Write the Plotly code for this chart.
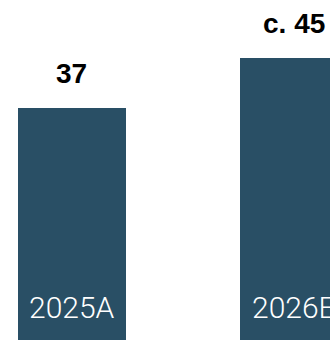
import plotly.graph_objects as go

# Chart data
categories = ["2025A", "2026E"]
values = [37, 45]
value_prefixes = ["", "c. "]

BAR_COLOR = "#294f65"
positions = list(range(len(categories)))

fig = go.Figure(
    go.Bar(
        x=positions,
        y=values,
        width=0.484,
        marker=dict(color=BAR_COLOR, line=dict(width=0)),
        hoverinfo="skip",
    )
)

annotations = []
for pos, cat, val, pre in zip(positions, categories, values, value_prefixes):
    # value label above the bar
    annotations.append(dict(
        x=pos, y=val, xref="x", yref="y",
        text=f"<b>{pre}{val}</b>",
        showarrow=False, xanchor="center", yanchor="middle",
        yshift=34.5,
        font=dict(family="Liberation Sans, Arial, sans-serif", size=28, color="#000000"),
    ))
    # period label inside the bar base
    annotations.append(dict(
        x=pos, y=0, xref="x", yref="y",
        text=cat,
        showarrow=False, xanchor="center", yanchor="middle",
        yshift=33,
        font=dict(family="Roboto, Lato, sans-serif", size=30, color="#ffffff", weight=300),
    ))

fig.update_layout(
    width=330, height=341,
    margin=dict(l=0, r=0, t=0, b=0),
    paper_bgcolor="#ffffff", plot_bgcolor="#ffffff",
    showlegend=False,
    bargap=0,
    xaxis=dict(range=[-0.3243, 1.1622], visible=False, fixedrange=True),
    yaxis=dict(range=[-0.16, 54.23], visible=False, fixedrange=True),
    annotations=annotations,
)

fig.write_html("out.html", config={"displayModeBar": False})
